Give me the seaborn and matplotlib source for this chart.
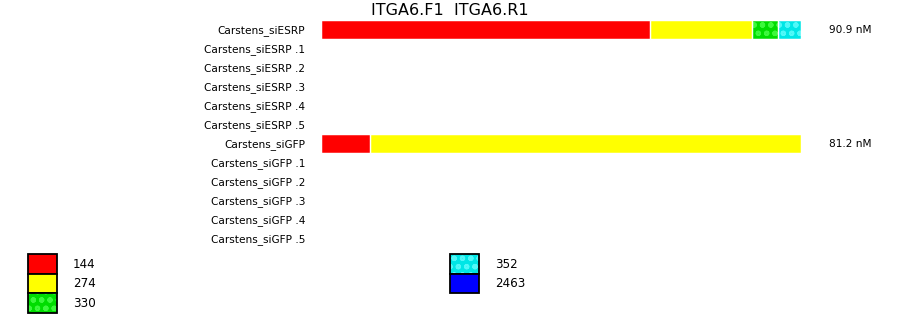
import numpy as np
import pandas as pd
import matplotlib
matplotlib.use("Agg")
import matplotlib.pyplot as plt
from matplotlib.patches import Rectangle
import seaborn as sns

# ---------------- data ----------------
samples = [
    "Carstens_siESRP", "Carstens_siESRP .1", "Carstens_siESRP .2",
    "Carstens_siESRP .3", "Carstens_siESRP .4", "Carstens_siESRP .5",
    "Carstens_siGFP", "Carstens_siGFP .1", "Carstens_siGFP .2",
    "Carstens_siGFP .3", "Carstens_siGFP .4", "Carstens_siGFP .5",
]
seg_144 = [68.5, 0, 0, 0, 0, 0, 10.2, 0, 0, 0, 0, 0]
seg_274 = [21.3, 0, 0, 0, 0, 0, 89.8, 0, 0, 0, 0, 0]
seg_330 = [5.4, 0, 0, 0, 0, 0, 0, 0, 0, 0, 0, 0]
seg_352 = [4.8, 0, 0, 0, 0, 0, 0, 0, 0, 0, 0, 0]
seg_2463 = [0, 0, 0, 0, 0, 0, 0, 0, 0, 0, 0, 0]
conc_labels = ["90.9 nM", "", "", "", "", "", "81.2 nM", "", "", "", "", ""]
title = "ITGA6.F1  ITGA6.R1"

legend_labels = ["144", "274", "330", "352", "2463"]
seg_colors = ["#ff0000", "#ffff00", "#00dd00", "#00e6e6", "#0000ff"]
hatch_colors = [None, None, "#3cf83c", "#50f8f8", None]
seg_hatches = ["", "", "oo", "oo", ""]

# ---------------- figure ----------------
sns.set_style("white")
plt.rcParams["font.family"] = ["DejaVu Sans"]
plt.rcParams["text.color"] = "black"
plt.rcParams["ytick.color"] = "black"
plt.rcParams["ytick.labelcolor"] = "black"
plt.rcParams["hatch.linewidth"] = 1.5

W, H = 900, 318
fig = plt.figure(figsize=(W / 100, H / 100), dpi=100)

ax = fig.add_axes([321 / W, 1 - 248 / H, 480 / W, 228 / H])

df = pd.DataFrame({"sample": samples, "144": seg_144, "274": seg_274,
                   "330": seg_330, "352": seg_352, "2463": seg_2463})
seg_cols = legend_labels
cum = df[seg_cols].cumsum(axis=1)
for c in seg_cols:
    df["cum_" + c] = cum[c]

bar_w = 0.965
# draw from the largest cumulative sum down so each segment stays visible
for i in range(len(seg_cols) - 1, -1, -1):
    c = seg_cols[i]
    kws = dict(linewidth=0)
    if seg_hatches[i]:
        kws.update(hatch=seg_hatches[i], edgecolor=hatch_colors[i])
    else:
        kws.update(edgecolor=seg_colors[i])
    sns.barplot(data=df, y="sample", x="cum_" + c, orient="h",
                color=seg_colors[i], saturation=1, width=bar_w,
                errorbar=None, ax=ax, **kws)
    # white outline gives the thin gap at the segment's right end
    sns.barplot(data=df, y="sample", x="cum_" + c, orient="h",
                color="white", fill=False, width=bar_w, linewidth=1.05,
                errorbar=None, ax=ax)

ax.set_xlim(0, 100)
ax.set_ylim(len(samples) - 0.5, -0.5)
ax.set_xlabel("")
ax.set_ylabel("")
ax.set_xticks([])
for s in ax.spines.values():
    s.set_visible(False)
ax.tick_params(axis="y", length=0, pad=11.5, labelsize=7.6,
               labelcolor="black")

for yi, lab in enumerate(conc_labels):
    if lab:
        ax.text(105.8, yi, lab, ha="left", va="center", fontsize=7.6,
                color="black", clip_on=False)

fig.text(449.5 / W, 1 - 10.5 / H, title, ha="center", va="center",
         fontsize=11.5, color="black")

# ---------------- legend ----------------
lax = fig.add_axes([0, 0, 1, 1])
lax.set_xlim(0, W)
lax.set_ylim(H, 0)
lax.axis("off")
for i, lab in enumerate(legend_labels):
    col, row = divmod(i, 3)
    x0 = 28 + col * 422
    y0 = 254 + row * 19.7
    if seg_hatches[i]:
        lax.add_patch(Rectangle((x0, y0), 29, 19.7, facecolor=seg_colors[i],
                                edgecolor=hatch_colors[i], hatch=seg_hatches[i],
                                linewidth=0))
    else:
        lax.add_patch(Rectangle((x0, y0), 29, 19.7, facecolor=seg_colors[i],
                                linewidth=0))
    lax.add_patch(Rectangle((x0, y0), 29, 19.7, fill=False,
                            edgecolor="black", linewidth=1.3))
    lax.text(x0 + 45, y0 + 10.2, lab, ha="left", va="center", fontsize=8.6,
             color="black")

fig.savefig("out.png", dpi=100, facecolor="white")
